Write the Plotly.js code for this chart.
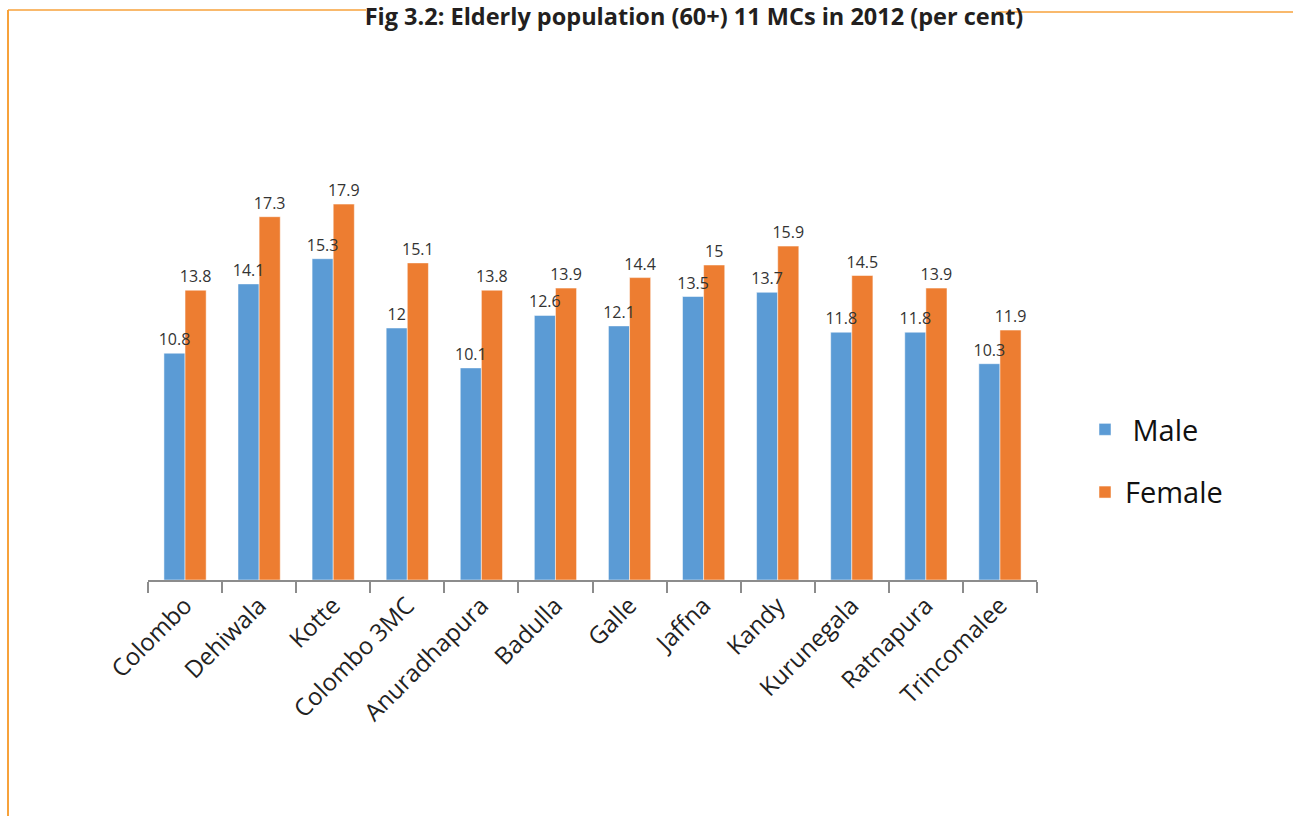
<!DOCTYPE html>
<html>
<head>
<meta charset="utf-8">
<script src="https://cdn.plot.ly/plotly-3.0.1.min.js"></script>
<style>html,body{margin:0;padding:0;background:#fff;}#chart{width:1293px;height:816px;}</style>
</head>
<body>
<div id="chart"></div>
<script>
const categories = ["Colombo","Dehiwala","Kotte","Colombo 3MC","Anuradhapura","Badulla","Galle","Jaffna","Kandy","Kurunegala","Ratnapura","Trincomalee"];
const maleValues = [10.8, 14.1, 15.3, 12, 10.1, 12.6, 12.1, 13.5, 13.7, 11.8, 11.8, 10.3];
const femaleValues = [13.8, 17.3, 17.9, 15.1, 13.8, 13.9, 14.4, 15, 15.9, 14.5, 13.9, 11.9];
const seriesNames = [" Male", "Female"];
const seriesColors = ["#5B9BD5", "#ED7D31"];

const labelFont = {family: "Open Sans, Liberation Sans, sans-serif", size: 16, color: "#333333"};

function barTrace(name, values, color, group) {
  return {type: "bar", name: name, x: categories, y: values, offsetgroup: group, legendgroup: group,
          marker: {color: color, line: {color: "#ffffff", width: 0.5}}, hoverinfo: "x+y"};
}
function labelTrace(values, group) {
  return {type: "bar", x: categories, y: values, offsetgroup: group, showlegend: false,
          text: values.map(String), textposition: "outside", constraintext: "none", textfont: labelFont,
          cliponaxis: false, marker: {color: "rgba(0,0,0,0)", line: {width: 0}}, hoverinfo: "skip"};
}

const traces = [
  barTrace(seriesNames[0], maleValues, seriesColors[0], "m"),
  barTrace(seriesNames[1], femaleValues, seriesColors[1], "f"),
  labelTrace(maleValues, "m"),
  labelTrace(femaleValues, "f")
];

const L = 148, R = 1037, T = 160, B = 580, W = 1293, H = 816;
const px = v => (v - L) / (R - L);
const py = v => (B - v) / (B - T);
const frame = "#F7A23B";

const layout = {
  width: W, height: H,
  margin: {l: L, r: W - R, t: T, b: H - B, pad: 0},
  paper_bgcolor: "#ffffff", plot_bgcolor: "#ffffff",
  title: {text: "<b>Fig 3.2: Elderly population (60+) 11 MCs in 2012 (per cent)</b>",
          font: {family: "Open Sans, sans-serif", size: 23.5, color: "#231F20"},
          x: px(694), xanchor: "center", y: 1 - 17 / H, yanchor: "middle", xref: "paper", yref: "container"},
  barmode: "group", bargap: 0.43, bargroupgap: 0,
  showlegend: true,
  legend: {x: px(1085), xanchor: "left", y: py(461), yanchor: "middle", font: {family: "Open Sans, sans-serif", size: 29, color: "#111111"},
           traceorder: "grouped", tracegroupgap: 22, bgcolor: "rgba(0,0,0,0)"},
  xaxis: {type: "category", showline: true, linecolor: "#8c8c8c", linewidth: 2, ticks: "outside", tickson: "boundaries",
          ticklen: 11, tickwidth: 2, tickcolor: "#8c8c8c", tickangle: -45, showgrid: false,
          tickfont: {family: "Open Sans, sans-serif", size: 24, color: "#222222"}},
  yaxis: {range: [0, 20], visible: false, showgrid: false, zeroline: false, fixedrange: true},
  shapes: [
    {type: "line", xref: "paper", yref: "paper", x0: px(8), x1: px(8), y0: py(10), y1: py(816), line: {color: frame, width: 2}},
    {type: "line", xref: "paper", yref: "paper", x0: px(8), x1: px(366), y0: py(10), y1: py(10), line: {color: frame, width: 1.5}},
    {type: "line", xref: "paper", yref: "paper", x0: px(996), x1: px(1293), y0: py(12), y1: py(12), line: {color: frame, width: 1.5}}
  ]
};

Plotly.newPlot("chart", traces, layout, {displayModeBar: false, staticPlot: true});
</script>
</body>
</html>
